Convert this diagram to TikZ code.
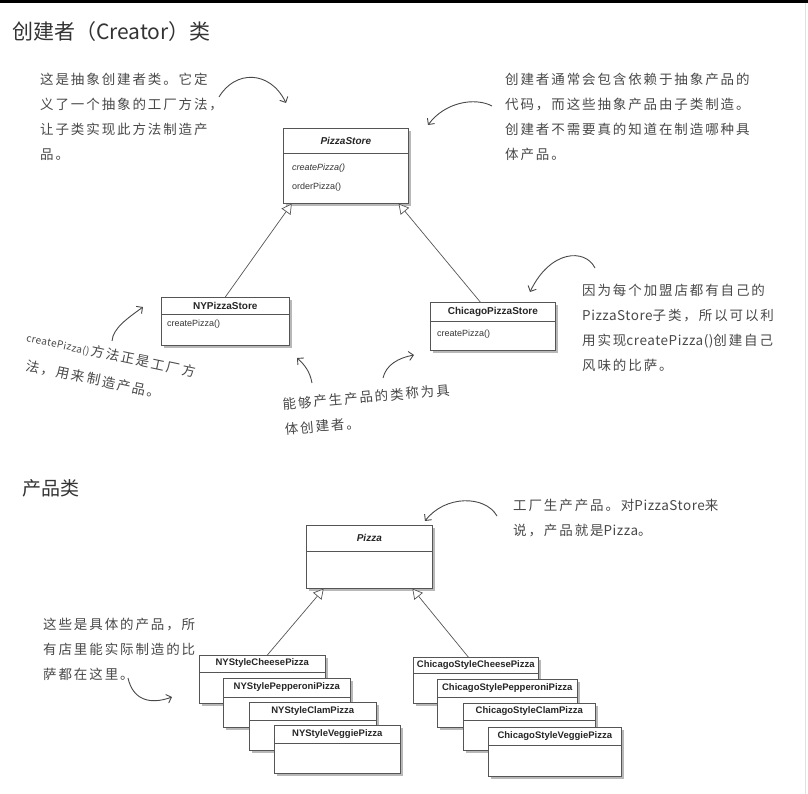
\documentclass[tikz,border=0pt]{standalone}
\usepackage{fontspec}
\setmainfont{Liberation Sans}
\newfontfamily\cjkfont{Noto Sans CJK SC}
\newfontfamily\cjknote[LetterSpace=14]{Noto Sans CJK SC}
\newfontfamily\latnote[LetterSpace=4]{Noto Sans CJK SC}
\newcommand\lt[1]{{\latnote #1}}
\usetikzlibrary{arrows.meta,shadows,calc}
\definecolor{notegray}{HTML}{484848}
\definecolor{titlegray}{HTML}{333333}
\definecolor{linegray}{HTML}{555555}
\newcommand\umlcls[7]{%
  \node[umlbox, minimum width=#4pt, minimum height=#5pt] (#1) at (#2,#3) {};
  \draw[divline] ([yshift=-#6pt]#1.north west) -- ([yshift=-#6pt]#1.north east);
  \node[clsname] (#1t) at ($(#1.north)+(0,#6/2)$) {#7};
}
\begin{document}
\begin{tikzpicture}[x=1pt,y=-1pt,
  umlbox/.style={draw=linegray, line width=0.6pt, fill=white, inner sep=0pt, anchor=north west,
     drop shadow={shadow xshift=2.5pt, shadow yshift=-2.5pt, opacity=0.28, fill=black}},
  divline/.style={draw=linegray, line width=0.5pt},
  clsname/.style={inner sep=0pt, text=black!85, font=\fontsize{10}{10}\selectfont\bfseries},
  stackname/.style={inner sep=0pt, text=black!85, font=\fontsize{9.5}{9.5}\selectfont\bfseries},
  meth/.style={inner sep=0pt, anchor=west, text=black!80, font=\fontsize{9}{9}\selectfont},
  note/.style={inner sep=0pt, anchor=north west, align=left, text=notegray,
     font=\cjknote\fontsize{13.5}{25}\selectfont},
  heading/.style={inner sep=0pt, anchor=west, text=titlegray, font=\cjkfont\fontsize{21}{21}\selectfont},
  inherit/.style={draw=linegray, line width=0.7pt, -{Triangle[fill=white, length=10pt, width=11pt]}},
  notearrow/.style={draw=notegray, line width=0.9pt, -{Straight Barb[length=4.5pt, width=9pt]}}
]
\useasboundingbox (0,0) rectangle (808,794);
\fill[black] (0,0) rectangle (808,3);
\draw[black!12, line width=1pt] (805,3) -- (805,794);

% headings
\node[heading] (h1) at (12,32) {创建者（Creator）类};
\node[heading, font=\cjkfont\fontsize{19}{19}\selectfont] (h2) at (22,488) {产品类};

% creator classes
\umlcls{ps}{283}{128}{125}{75}{25}{\itshape PizzaStore}
\node[meth, font=\fontsize{9}{9}\selectfont\itshape] (psm1) at (292,168) {createPizza()};
\node[meth] (psm2) at (292,187) {orderPizza()};

\umlcls{ny}{161}{297}{128}{48}{17}{NYPizzaStore}
\node[meth] (nym1) at (167,324) {createPizza()};

\umlcls{ch}{430}{302}{125}{48}{19}{ChicagoPizzaStore}
\node[meth] (chm1) at (437,334) {createPizza()};

\draw[inherit] (ny.north) -- ($(ps.south west)!0.07!(ps.south east)$);
\draw[inherit] ($(ch.north west)!0.4!(ch.north east)$) -- ($(ps.south west)!0.92!(ps.south east)$);

% product classes
\umlcls{pz}{306}{525}{126}{63}{26}{\itshape Pizza}

\begin{scope}[clsname/.style=stackname]
\umlcls{nyc}{199}{655}{126}{48}{17}{NYStyleCheesePizza}
\umlcls{nyp}{223}{678}{127}{49}{19}{NYStylePepperoniPizza}
\umlcls{nycl}{249}{702}{127}{48}{18}{NYStyleClamPizza}
\umlcls{nyv}{274}{725}{126}{48}{18}{NYStyleVeggiePizza}
\umlcls{chc}{413}{657}{125}{46}{16}{ChicagoStyleCheesePizza}
\umlcls{chp}{437}{679}{140}{48}{18}{ChicagoStylePepperoniPizza}
\umlcls{chcl}{463}{703}{132}{47}{17}{ChicagoStyleClamPizza}
\umlcls{chv}{488}{727}{133}{49}{18}{ChicagoStyleVeggiePizza}
\end{scope}

\draw[inherit] ($(nyc.north west)!0.54!(nyc.north east)$) -- ($(pz.south west)!0.14!(pz.south east)$);
\draw[inherit] ($(chc.north west)!0.44!(chc.north east)$) -- ($(pz.south west)!0.84!(pz.south east)$);

% notes
\node[note] (n1) at (40,73) {这是抽象创建者类。它定\\义了一个抽象的工厂方法，\\让子类实现此方法制造产\\品。};
\node[note] (n2) at (505,73) {创建者通常会包含依赖于抽象产品的\\代码，而这些抽象产品由子类制造。\\创建者不需要真的知道在制造哪种具\\体产品。};
\node[note] (n3) at (582,284) {因为每个加盟店都有自己的\\\lt{PizzaStore}子类，所以可以利\\用实现\lt{createPizza()}创建自己\\风味的比萨。};
\node[note, rotate=-12, font=\cjknote\fontsize{13.5}{28}\selectfont] (n4) at (28,330) {{\latnote\fontsize{10}{10}\selectfont createPizza()}\hspace{2pt}方法正是工厂方\\\hspace{6pt}法，用来制造产品。};
\node[note, rotate=5] (n5) at (282,398) {能够产生产品的类称为具\\体创建者。};
\node[note] (n6) at (513,499) {工厂生产产品。对\lt{PizzaStore}来\\说，产品就是\lt{Pizza}。};
\node[note] (n7) at (43,618) {这些是具体的产品，所\\有店里能实际制造的比\\萨都在这里。};

% note arrows
\coordinate (a1s) at (219,97);   \coordinate (a1e) at (286,103);
\coordinate (a2s) at (492,106);  \coordinate (a2e) at (428,125);
\coordinate (a3s) at (595,268);  \coordinate (a3e) at (530,292);
\coordinate (a4s) at (112,341);  \coordinate (a4e) at (143,307);
\coordinate (a5s) at (312,383);  \coordinate (a5e) at (297,358);
\coordinate (a6s) at (383,378);  \coordinate (a6e) at (414,355);
\coordinate (a7s) at (497,516);  \coordinate (a7e) at (425,521);
\coordinate (a8s) at (128,678);  \coordinate (a8e) at (172,697);
\draw[notearrow] (a1s) .. controls (235,70) and (270,70) .. (a1e);
\draw[notearrow] (a2s) .. controls (475,97) and (445,102) .. (a2e);
\draw[notearrow] (a3s) .. controls (585,248) and (550,250) .. (a3e);
\draw[notearrow] (a4s) .. controls (113,328) and (128,318) .. (a4e);
\draw[notearrow] (a5s) .. controls (310,372) and (305,365) .. (a5e);
\draw[notearrow] (a6s) .. controls (386,365) and (398,358) .. (a6e);
\draw[notearrow] (a7s) .. controls (485,495) and (445,495) .. (a7e);
\draw[notearrow] (a8s) .. controls (133,700) and (150,705) .. (a8e);
\end{tikzpicture}
\end{document}
